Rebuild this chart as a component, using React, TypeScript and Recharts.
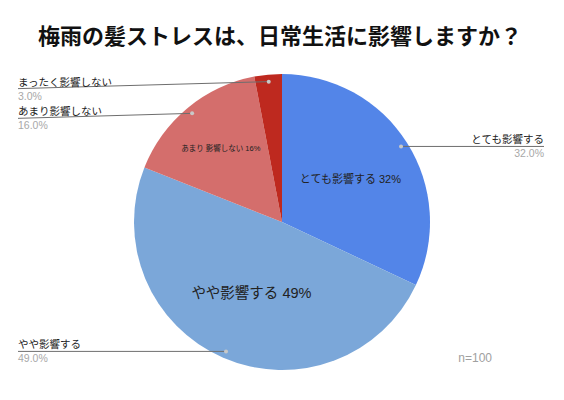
import { Pie, PieChart, Cell } from 'recharts';

const categories = ['とても影響する', 'やや影響する', 'あまり影響しない', 'まったく影響しない'];
const values = [32, 49, 16, 3];
const colors = ['#5385e8', '#7ba7d9', '#d46e6c', '#be291f'];

const title = '梅雨の髪ストレスは、日常生活に影響しますか？';
const note = 'n=100';

const data = categories.map((name, i) => ({ name, value: values[i] }));

const FONT = '"Liberation Sans", "Noto Sans CJK JP", sans-serif';
const RAD = Math.PI / 180;

// inner label radius / font size per slice (0 = no inner label)
const innerRadius = [81, 77, 96, 0];
const innerFont = [11, 14.5, 7.5, 0];
// vertical nudge of the outside label line
const lineNudge = [0, 0, 5, 7];

function renderLabel(props: any) {
  const { cx, cy, midAngle, outerRadius, percent, index, name } = props;
  const cos = Math.cos(-midAngle * RAD);
  const sin = Math.sin(-midAngle * RAD);
  const dotR = outerRadius - 7;
  const dx = cx + dotR * cos;
  const dy = cy + dotR * sin;
  const right = dx > cx;
  const ex = right ? 544 : 18;
  const ey = dy + lineNudge[index];
  const anchor = right ? 'end' : 'start';
  const pct = (percent * 100).toFixed(1) + '%';
  const ir = innerRadius[index];

  return (
    <g>
      <line x1={dx} y1={dy} x2={ex} y2={ey} stroke="#6e6e6e" strokeWidth={1} />
      <circle cx={dx} cy={dy} r={2} fill="#c8c8c8" />
      <text x={ex} y={ey - 3} textAnchor={anchor} fontSize={10.5} fill="#222" fontFamily={FONT}>
        {name}
      </text>
      <text x={ex} y={ey + 11} textAnchor={anchor} fontSize={10.5} fill="#a8a8a8" fontFamily={FONT}>
        {pct}
      </text>
      {ir > 0 && (
        <text
          x={cx + ir * cos}
          y={cy + ir * sin}
          textAnchor="middle"
          dominantBaseline="central"
          fontSize={innerFont[index]}
          fill="#222"
          fontFamily={FONT}
        >
          {`${name.replace('あまり', 'あまり ')} ${Math.round(percent * 100)}%`}
        </text>
      )}
    </g>
  );
}

export default function App() {
  return (
    <div style={{ position: 'absolute', left: 0, top: 0, width: 564, height: 400, background: '#fff' }}>
      <PieChart width={564} height={400} margin={{ top: 0, right: 0, bottom: 0, left: 0 }}>
        <text x={280} y={44} textAnchor="middle" fontSize={22} fontWeight="bold" fill="#111" fontFamily={FONT}>
          {title}
        </text>
        <Pie
          data={data}
          dataKey="value"
          nameKey="name"
          cx={282}
          cy={222}
          outerRadius={148}
          startAngle={90}
          endAngle={-270}
          stroke="none"
          label={renderLabel}
          labelLine={false}
          isAnimationActive={false}
        >
          {data.map((d, i) => (
            <Cell key={d.name} fill={colors[i]} />
          ))}
        </Pie>
        <text x={492} y={362} textAnchor="end" fontSize={12} fill="#a0a0a0" fontFamily={FONT}>
          {note}
        </text>
      </PieChart>
    </div>
  );
}
